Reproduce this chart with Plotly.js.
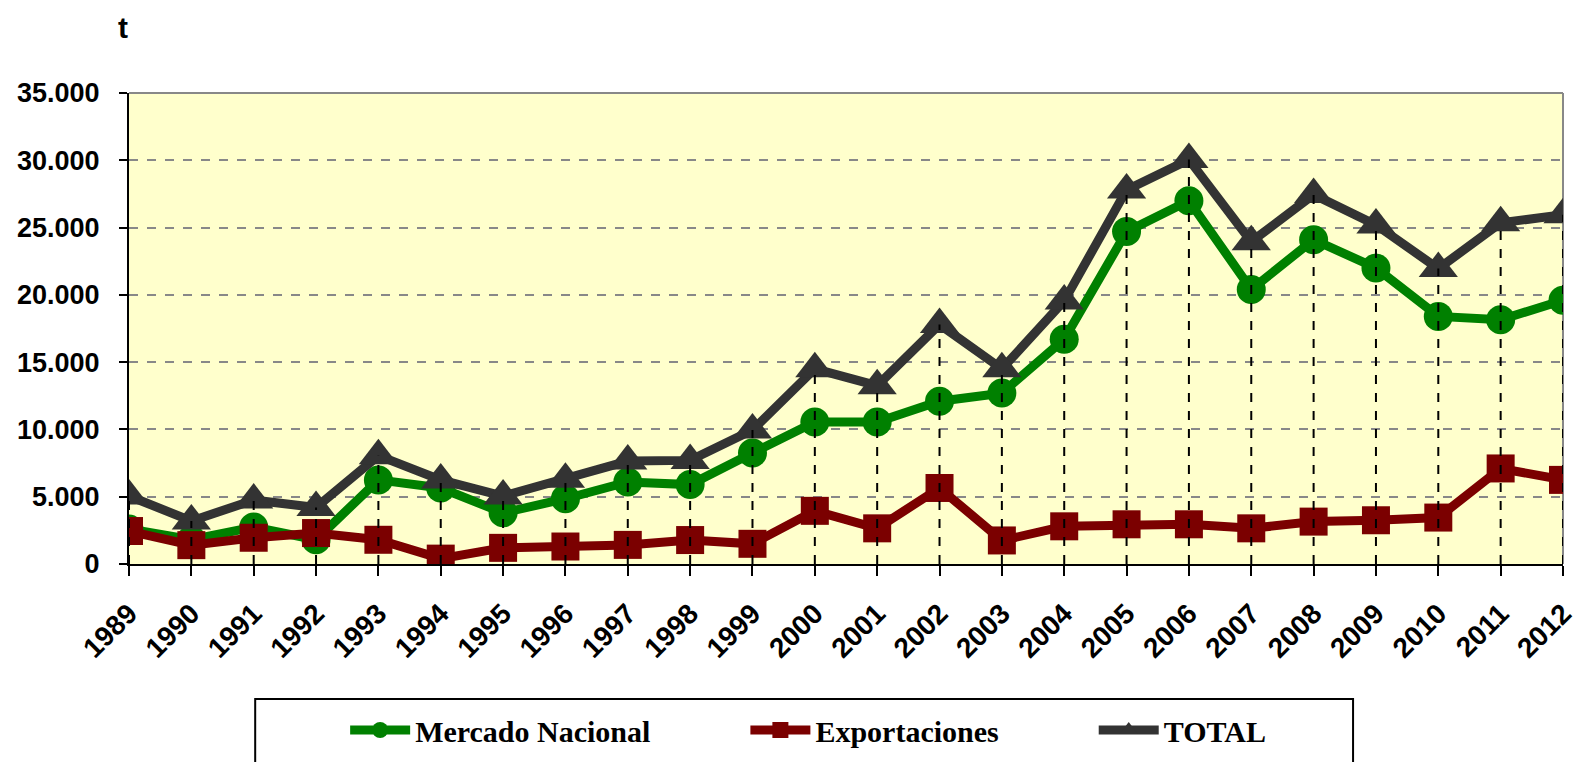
<!DOCTYPE html>
<html>
<head>
<meta charset="utf-8">
<script src="https://cdn.plot.ly/plotly-3.0.1.min.js"></script>
<style>
  body { margin: 0; background: #ffffff; }
  #chart { width: 1576px; height: 762px; }
</style>
</head>
<body>
<div id="chart"></div>
<script>
var years = [1989, 1990, 1991, 1992, 1993, 1994, 1995, 1996, 1997, 1998, 1999, 2000,
             2001, 2002, 2003, 2004, 2005, 2006, 2007, 2008, 2009, 2010, 2011, 2012];

var mercadoNacional = [2600, 1800, 2750, 1800, 6250, 5650, 3800, 4850, 6100, 5900, 8250, 10550,
                       10550, 12100, 12700, 16700, 24700, 27000, 20400, 24100, 22000, 18400, 18150, 19600];

var exportaciones = [2450, 1400, 1950, 2300, 1800, 400, 1200, 1300, 1420, 1780, 1500, 3950,
                     2650, 5650, 1750, 2800, 2950, 2950, 2650, 3150, 3250, 3450, 7100, 6250];

var total = [5050, 3200, 4750, 4200, 8050, 6250, 5050, 6300, 7650, 7700, 9950, 14500,
             13250, 17800, 14500, 19550, 27800, 30050, 23950, 27450, 25200, 21950, 25350, 25950];

var yTicks = [0, 5000, 10000, 15000, 20000, 25000, 30000, 35000];

function pad(name) {
    return name + '\u00a0'.repeat(12)
}

var traceMercado = {
    x: years,
    y: mercadoNacional,
    type: 'scatter',
    mode: 'lines+markers',
    name: pad('Mercado Nacional'),
    line: { color: '#008000', width: 9 },
    marker: { symbol: 'circle', size: 29, color: '#008000' }
}

var traceExport = {
    x: years,
    y: exportaciones,
    type: 'scatter',
    mode: 'lines+markers',
    name: pad('Exportaciones'),
    line: { color: '#7b0000', width: 9 },
    marker: { symbol: 'square', size: 28, color: '#7b0000' }
}

var traceTotal = {
    x: years,
    y: total,
    type: 'scatter',
    mode: 'lines+markers',
    name: 'TOTAL',
    line: { color: '#333333', width: 9 },
    marker: { symbol: 'triangle-up', size: 34, color: '#333333' }
}

// drop lines from the TOTAL points down to the axis
var shapes = years.map((yr, i) => ({
    type: 'line', xref: 'x', yref: 'y', layer: 'above',
    x0: yr, x1: yr, y0: 0, y1: total[i],
    line: { color: '#000000', width: 2, dash: 'dash' }
}))

// plot area border (top and right) and legend box
shapes.push({ type: 'line', xref: 'paper', yref: 'paper', x0: 0, x1: 1, y0: 1, y1: 1,
              line: { color: '#888888', width: 2 }, layer: 'below' })
shapes.push({ type: 'line', xref: 'paper', yref: 'paper', x0: 1, x1: 1, y0: 0, y1: 1,
              line: { color: '#888888', width: 2 }, layer: 'below' })
shapes.push({ type: 'rect', xref: 'paper', yref: 'paper', x0: 0.088, x1: 0.8536, y0: -0.2866, y1: -0.5,
              line: { color: '#000000', width: 2 } })

var axisFont = { family: '"Liberation Sans", Arial, sans-serif', size: 27, color: '#000000', weight: 'bold' }

var layout = {
    width: 1576,
    height: 762,
    margin: { l: 129, r: 13, t: 93, b: 198 },
    paper_bgcolor: '#ffffff',
    plot_bgcolor: '#ffffcc',
    separators: ',.',
    showlegend: true,
    xaxis: {
        range: [1989, 2012],
        tickvals: years,
        ticktext: years.map(String),
        tickangle: -45,
        ticks: 'outside',
        ticklen: 10,
        tickwidth: 2,
        tickcolor: '#000000',
        ticklabelstandoff: 10,
        ticklabeloverflow: 'allow',
        showline: true,
        linecolor: '#000000',
        linewidth: 2,
        showgrid: false,
        zeroline: false,
        tickfont: { family: '"Liberation Sans", Arial, sans-serif', size: 28, color: '#000000', weight: 'bold' }
    },
    yaxis: {
        range: [0, 35000],
        tickvals: yTicks,
        tickformat: ',d',
        ticks: 'outside',
        ticklen: 8,
        tickwidth: 2,
        tickcolor: '#000000',
        ticklabelstandoff: 14,
        showline: true,
        linecolor: '#000000',
        linewidth: 2,
        showgrid: true,
        gridcolor: '#888888',
        gridwidth: 2,
        griddash: 'dash',
        zeroline: false,
        tickfont: axisFont
    },
    legend: {
        orientation: 'h',
        xref: 'container',
        yref: 'container',
        x: 0.219,
        xanchor: 'left',
        y: 0.042,
        yanchor: 'middle',
        itemwidth: 60,
        bgcolor: 'rgba(0,0,0,0)',
        borderwidth: 0,
        font: { family: '"Liberation Serif", "Times New Roman", serif', size: 30, color: '#000000', weight: 'bold' }
    },
    annotations: [{
        text: 't',
        xref: 'paper', yref: 'paper',
        x: -0.004, y: 1.14,
        xanchor: 'center', yanchor: 'middle',
        showarrow: false,
        font: { family: '"Liberation Sans", Arial, sans-serif', size: 30, color: '#000000', weight: 'bold' }
    }],
    shapes: shapes
}

Plotly.newPlot('chart', [traceMercado, traceExport, traceTotal], layout, { displayModeBar: false })
</script>
</body>
</html>
